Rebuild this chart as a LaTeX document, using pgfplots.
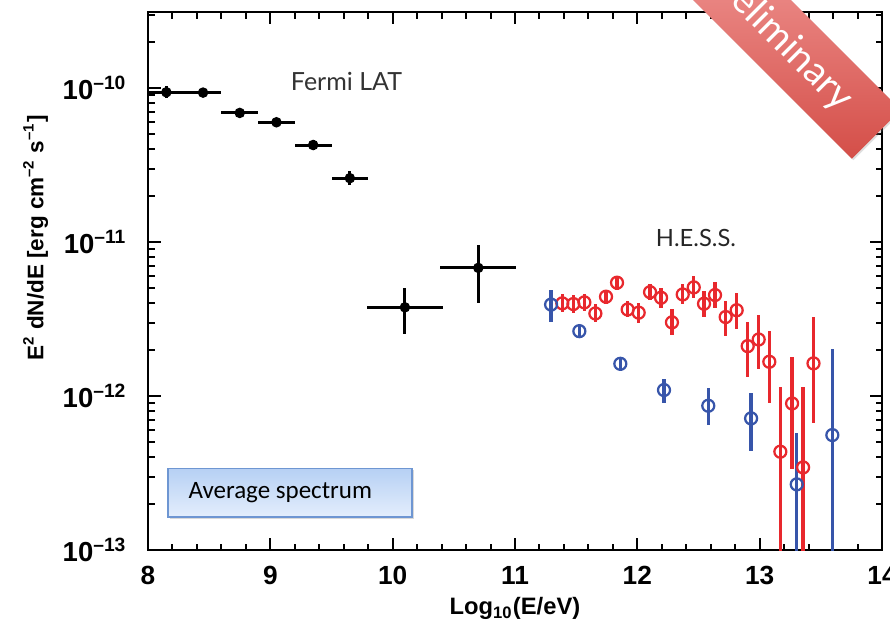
\documentclass[border=0pt]{standalone}
\usepackage{pgfplots}
\pgfplotsset{compat=1.18}
\usepackage{pgfplotstable}
\usepackage{fontspec}
\setmainfont{Liberation Sans}
\newfontfamily\lato{Lato}
\newfontfamily\carlito{Carlito}
\usetikzlibrary{calc,shadows}

\definecolor{hessred}{RGB}{232,40,45}
\definecolor{hessblue}{RGB}{55,85,170}
\definecolor{banlight}{RGB}{244,160,158}
\definecolor{bandark}{RGB}{212,78,72}
\definecolor{boxtop}{RGB}{182,208,244}
\definecolor{boxbot}{RGB}{228,238,252}
\definecolor{boxline}{RGB}{110,150,210}

\pgfplotstableread{
x y lo hi xe
8.15 9.4e-11 8.6e-11 1.03e-10 0.15
8.45 9.35e-11 8.8e-11 9.9e-11 0.15
8.75 6.9e-11 6.5e-11 7.3e-11 0.15
9.05 6.0e-11 5.65e-11 6.4e-11 0.15
9.35 4.27e-11 3.96e-11 4.6e-11 0.15
9.65 2.6e-11 2.34e-11 2.88e-11 0.15
10.10 3.77e-12 2.53e-12 5.0e-12 0.31
10.70 6.8e-12 4.04e-12 9.57e-12 0.31
}\fermi

\pgfplotstableread{
x y lo hi
11.387 4.00e-12 3.50e-12 4.57e-12
11.477 3.96e-12 3.47e-12 4.53e-12
11.567 4.06e-12 3.55e-12 4.63e-12
11.657 3.44e-12 3.01e-12 3.94e-12
11.744 4.42e-12 3.98e-12 4.90e-12
11.834 5.45e-12 4.91e-12 6.04e-12
11.921 3.65e-12 3.24e-12 4.12e-12
12.011 3.48e-12 2.99e-12 4.04e-12
12.104 4.73e-12 4.20e-12 5.33e-12
12.194 4.35e-12 3.74e-12 5.05e-12
12.283 3.01e-12 2.48e-12 3.66e-12
12.371 4.57e-12 3.94e-12 5.31e-12
12.461 5.08e-12 4.31e-12 5.98e-12
12.545 3.98e-12 3.28e-12 4.83e-12
12.635 4.53e-12 3.73e-12 5.50e-12
12.722 3.26e-12 2.45e-12 4.16e-12
12.812 3.61e-12 2.71e-12 4.64e-12
12.902 2.11e-12 1.33e-12 3.04e-12
12.992 2.33e-12 1.49e-12 3.36e-12
13.079 1.67e-12 8.95e-13 2.64e-12
13.169 4.35e-13 1e-15 1.15e-12
13.265 8.95e-13 3.34e-13 1.80e-12
13.355 3.44e-13 1e-15 1.15e-12
13.440 1.63e-12 6.65e-13 3.27e-12
}\hessred

\pgfplotstableread{
x y lo hi
11.295 3.93e-12 3.01e-12 4.88e-12
11.526 2.64e-12 2.43e-12 2.87e-12
11.861 1.62e-12 1.46e-12 1.80e-12
12.218 1.094e-12 8.95e-13 1.30e-12
12.580 8.65e-13 6.49e-13 1.12e-12
12.930 7.16e-13 4.39e-13 1.04e-12
13.303 2.67e-13 1e-15 5.78e-13
13.594 5.58e-13 1e-15 2.01e-12
}\hessblue

\begin{document}
\begin{tikzpicture}
\begin{axis}[
  scale only axis, width=293.6pt, height=215.2pt,
  xmin=8, xmax=14, ymin=1e-13, ymax=3.12e-10, ymode=log,
  axis line style={line width=1.1pt},
  tick style={line width=0.8pt, black},
  major tick length=5pt, minor tick length=2.6pt,
  tick align=inside,
  xtick={8,9,10,11,12,13,14}, minor x tick num=4,
  ytick={1e-13,1e-12,1e-11,1e-10},
  minor ytick={2e-13,3e-13,4e-13,5e-13,6e-13,7e-13,8e-13,9e-13,
               2e-12,3e-12,4e-12,5e-12,6e-12,7e-12,8e-12,9e-12,
               2e-11,3e-11,4e-11,5e-11,6e-11,7e-11,8e-11,9e-11,
               2e-10,3e-10},
  yticklabels={10\textsuperscript{--13},10\textsuperscript{--12},10\textsuperscript{--11},10\textsuperscript{--10}},
  /pgf/number format/assume math mode=true,
  xticklabel style={font=\bfseries\fontsize{10.5}{12}\selectfont, yshift=-3pt},
  yticklabel style={font=\bfseries\fontsize{11}{12}\selectfont, xshift=-5pt},
  xlabel={Log\textsubscript{10}(E/eV)},
  xlabel style={font=\bfseries\fontsize{9.5}{11}\selectfont, yshift=2pt},
  ylabel={E\textsuperscript{2} dN/dE [erg cm\textsuperscript{--2} s\textsuperscript{--1}]},
  ylabel style={font=\bfseries\fontsize{9}{11}\selectfont, at={(ticklabel cs:0.58)}, yshift=-1pt},
  error bars/error mark=none,
]
\addplot[only marks, mark=*, black, mark size=1.9pt,
  error bars/.cd, x dir=both, x explicit, y dir=both, y explicit,
  error bar style={line width=1.2pt, black}]
  table[x=x, y=y, x error=xe,
        y error plus expr=\thisrow{hi}-\thisrow{y},
        y error minus expr=\thisrow{y}-\thisrow{lo}] {\fermi};
\addplot[only marks, mark=o, hessred, mark size=2.4pt,
  mark options={fill=white, line width=0.9pt},
  error bars/.cd, y dir=both, y explicit,
  error bar style={line width=1.4pt, hessred}]
  table[x=x, y=y,
        y error plus expr=\thisrow{hi}-\thisrow{y},
        y error minus expr=\thisrow{y}-\thisrow{lo}] {\hessred};
\addplot[only marks, mark=o, hessblue, mark size=2.4pt,
  mark options={fill=white, line width=0.9pt},
  error bars/.cd, y dir=both, y explicit,
  error bar style={line width=1.4pt, hessblue}]
  table[x=x, y=y,
        y error plus expr=\thisrow{hi}-\thisrow{y},
        y error minus expr=\thisrow{y}-\thisrow{lo}] {\hessblue};
\coordinate (bl) at (rel axis cs:0,0);
\coordinate (tr) at (rel axis cs:1,1);
\coordinate (fermi) at (rel axis cs:0.2704,0.8717);
\coordinate (hess) at (rel axis cs:0.7466,0.58);
\coordinate (box1) at (rel axis cs:0.0272,0.0613);
\coordinate (box2) at (rel axis cs:0.3597,0.152);
\coordinate (boxtxt) at (rel axis cs:0.0545,0.106);
\coordinate (ban) at (rel axis cs:0.8597,0.9535);
\end{axis}
\node[font=\lato\fontsize{10}{12}\selectfont, text=black!80] at (fermi) {Fermi LAT};
\node[font=\lato\fontsize{9.5}{12}\selectfont, text=black!85] at (hess) {H.E.S.S.};
\shade[top color=boxtop, bottom color=boxbot, draw=boxline, line width=0.5pt,
  drop shadow={shadow xshift=0.8pt, shadow yshift=-0.8pt, opacity=0.3}] (box1) rectangle (box2);
\node[anchor=west, font=\carlito\fontsize{10}{12}\selectfont, inner sep=0pt] at (boxtxt) {Average spectrum};
\node[rotate=-45, top color=banlight, bottom color=bandark, minimum width=110pt, minimum height=27.6pt,
  inner sep=0pt, text=white, font=\lato\fontsize{15.5}{15}\selectfont,
  drop shadow={shadow xshift=0.6pt, shadow yshift=-0.6pt, opacity=0.25}] at (ban) {Preliminary};
\pgfresetboundingbox
\path[use as bounding box] ($(bl)+(-59.2pt,-27.6pt)$) rectangle ($(tr)+(3.2pt,4.8pt)$);
\end{tikzpicture}
\end{document}
